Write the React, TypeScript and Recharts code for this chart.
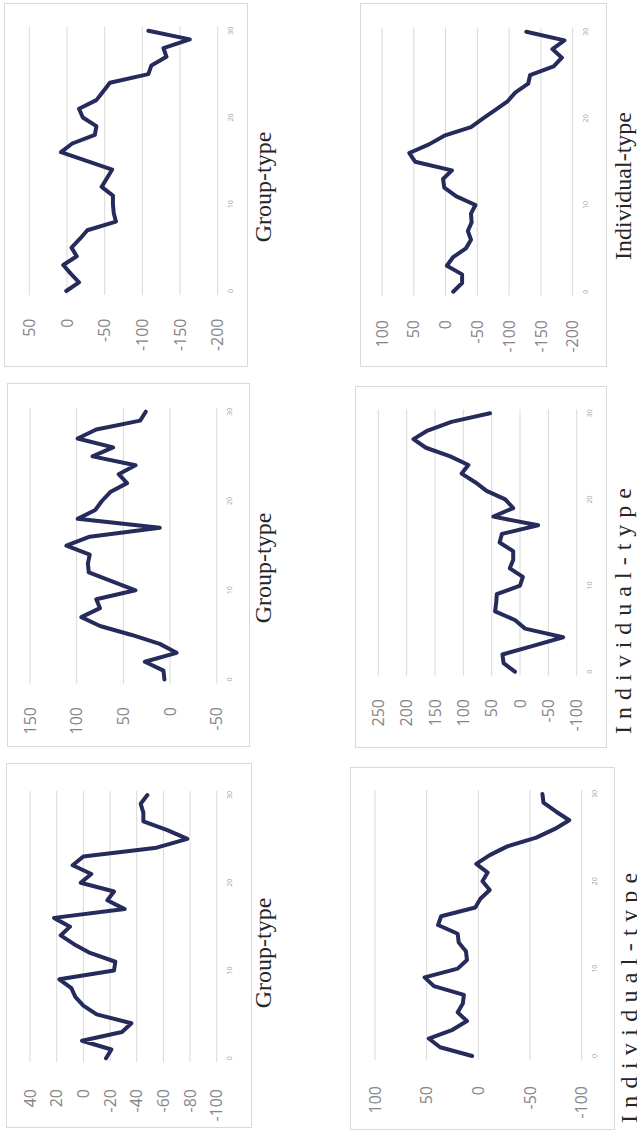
import React from "react";
import { LineChart, Line, XAxis, YAxis, CartesianGrid } from "recharts";

// the sheet is drawn in landscape and then turned a quarter to the left
const PAGE_W = 1134;
const PAGE_H = 637;

const steps = [0, 1, 2, 3, 4, 5, 6, 7, 8, 9, 10, 11, 12, 13, 14, 15, 16, 17, 18, 19, 20, 21, 22, 23, 24, 25, 26, 27, 28, 29, 30];
const stepTicks = [0, 10, 20, 30];

// Group-type
const group1 = [-17, -21, 1, -29, -36, -10, 0, 6, 9, 18, -23, -24, -5, 7, 17, 10, 22, -31, -18, -23, 2, -6, 8, 0, -55, -78, -63, -45, -45, -43, -48];
const group2 = [6, 7, 27, -7, 11, 41, 75, 95, 75, 79, 37, 62, 87, 88, 86, 111, 86, 11, 99, 80, 73, 64, 46, 55, 37, 83, 61, 99, 79, 32, 26];
const group3 = [1, -16, -5, 5, -13, -6, -17, -27, -65, -62, -61, -61, -46, -53, -60, -26, 8, -7, -37, -39, -21, -16, -39, -48, -57, -108, -112, -132, -128, -163, -108];

// Individual-type
const indiv1 = [6, 37, 48, 25, 11, 20, 15, 14, 43, 52, 20, 11, 12, 19, 20, 39, 36, 3, -2, -11, -4, -9, 2, -11, -28, -56, -74, -88, -75, -63, -62];
const indiv2 = [9, 29, 31, -23, -76, -9, 9, 44, 42, 41, 0, -5, 18, 12, 12, 36, 32, -32, 47, 12, 26, 59, 79, 103, 91, 123, 166, 188, 163, 121, 53];
const indiv3 = [-12, -26, -26, -2, -12, -32, -40, -35, -41, -40, -47, -17, 2, 4, -10, 48, 57, 26, 2, -40, -59, -79, -98, -110, -130, -133, -170, -183, -168, -187, -127];

const ticksG1 = [-100, -80, -60, -40, -20, 0, 20, 40];
const ticksG2 = [-50, 0, 50, 100, 150];
const ticksG3 = [-200, -150, -100, -50, 0, 50];
const ticksI1 = [-100, -50, 0, 50, 100];
const ticksI2 = [-100, -50, 0, 50, 100, 150, 200, 250];
const ticksI3 = [-200, -150, -100, -50, 0, 50, 100];

const LINE = "#252b5b";
const GRID = "#d9d9d9";
const PAD = 4;

type Spec = {
  values: number[];
  ticks: number[];
  x: number;
  y: number;
  w: number;
  h: number;
  c0: number; // where step 0 sits
  c30: number; // where step 30 sits
  gT: number; // top gridline
  gB: number; // bottom gridline
  lab: number; // right end of the value labels
};

const panels: Spec[] = [
  { values: group1, ticks: ticksG1, x: 6, y: 6, w: 365, h: 246, c0: 69.7, c30: 333, gT: 24, gB: 210.7, lab: 39 },
  { values: group2, ticks: ticksG2, x: 387, y: 7, w: 364, h: 243, c0: 67.4, c30: 335.3, gT: 23, gB: 209.7, lab: 40 },
  { values: group3, ticks: ticksG3, x: 767, y: 4, w: 364, h: 244, c0: 76, c30: 336.3, gT: 25.3, gB: 213.7, lab: 48.5 },
  { values: indiv1, ticks: ticksI1, x: 4, y: 350, w: 363, h: 265, c0: 74, c30: 336, gT: 25, gB: 231.7, lab: 44 },
  { values: indiv2, ticks: ticksI2, x: 386, y: 355, w: 362, h: 252, c0: 76.3, c30: 334.7, gT: 23.3, gB: 221.7, lab: 49 },
  { values: indiv3, ticks: ticksI3, x: 767, y: 360, w: 364, h: 247, c0: 75.3, c30: 335.3, gT: 22, gB: 212.7, lab: 47 },
];

const captions = [
  { text: "Group-type", cx: 181, base: 271 },
  { text: "Group-type", cx: 566, base: 271 },
  { text: "Group-type", cx: 947, base: 271 },
  { text: "Individual-type", left: 11, spacing: 7.3, base: 637 },
  { text: "Individual-type", left: 400, spacing: 7, base: 631 },
  { text: "Individual-type", cx: 948, base: 631 },
];

function Panel({ p }: { p: Spec }) {
  const rows = steps.map((s, i) => ({ step: s, value: p.values[i] }));
  const plotL = p.c0 - PAD;
  const plotR = p.c30 + PAD;
  return (
    <>
      <div
        style={{
          position: "absolute",
          left: p.x,
          top: p.y,
          width: p.w,
          height: p.h,
          border: `1px solid ${GRID}`,
          boxSizing: "border-box",
          background: "#fff",
        }}
      />
      <div style={{ position: "absolute", left: p.x, top: p.y }}>
        <LineChart width={p.w} height={p.h} data={rows} margin={{ top: p.gT, right: p.w - plotR, bottom: 0, left: 0 }}>
          <CartesianGrid vertical={false} stroke={GRID} />
          <XAxis
            dataKey="step"
            type="number"
            domain={[0, 30]}
            ticks={stepTicks}
            interval={0}
            padding={{ left: PAD, right: PAD }}
            height={p.h - p.gB}
            tickSize={0}
            tickMargin={10.5}
            axisLine={false}
            tickLine={false}
            tick={{ fontSize: 7, fill: "#a6a6a6", fontFamily: "Open Sans" }}
          />
          <YAxis
            type="number"
            domain={[p.ticks[0], p.ticks[p.ticks.length - 1]]}
            ticks={p.ticks}
            interval={0}
            width={plotL}
            tickSize={0}
            tickMargin={plotL - p.lab}
            axisLine={false}
            tickLine={false}
            tick={{ fontSize: 16, fill: "#858585", fontFamily: "Open Sans" }}
          />
          <Line
            type="linear"
            dataKey="value"
            stroke={LINE}
            strokeWidth={4}
            strokeLinejoin="round"
            strokeLinecap="round"
            dot={false}
            isAnimationActive={false}
          />
        </LineChart>
      </div>
    </>
  );
}

export default function App() {
  return (
    <div
      style={{
        position: "fixed",
        left: 0,
        top: 0,
        width: PAGE_H,
        height: PAGE_W,
        overflow: "hidden",
        background: "#fff",
      }}
    >
      <div
        style={{
          position: "absolute",
          left: 0,
          top: PAGE_W,
          width: PAGE_W,
          height: PAGE_H,
          transform: "rotate(-90deg)",
          transformOrigin: "0 0",
        }}
      >
        {panels.map((p, i) => (
          <Panel key={i} p={p} />
        ))}
        {captions.map((c, i) => (
          <div
            key={"c" + i}
            style={{
              position: "absolute",
              top: c.base - 20,
              left: c.cx !== undefined ? c.cx - 200 : c.left,
              width: c.cx !== undefined ? 400 : undefined,
              textAlign: c.cx !== undefined ? "center" : "left",
              whiteSpace: "nowrap",
              fontFamily: "Liberation Serif",
              fontSize: 24,
              lineHeight: "24px",
              letterSpacing: c.spacing ?? 0,
              color: "#262626",
            }}
          >
            {c.text}
          </div>
        ))}
      </div>
    </div>
  );
}
